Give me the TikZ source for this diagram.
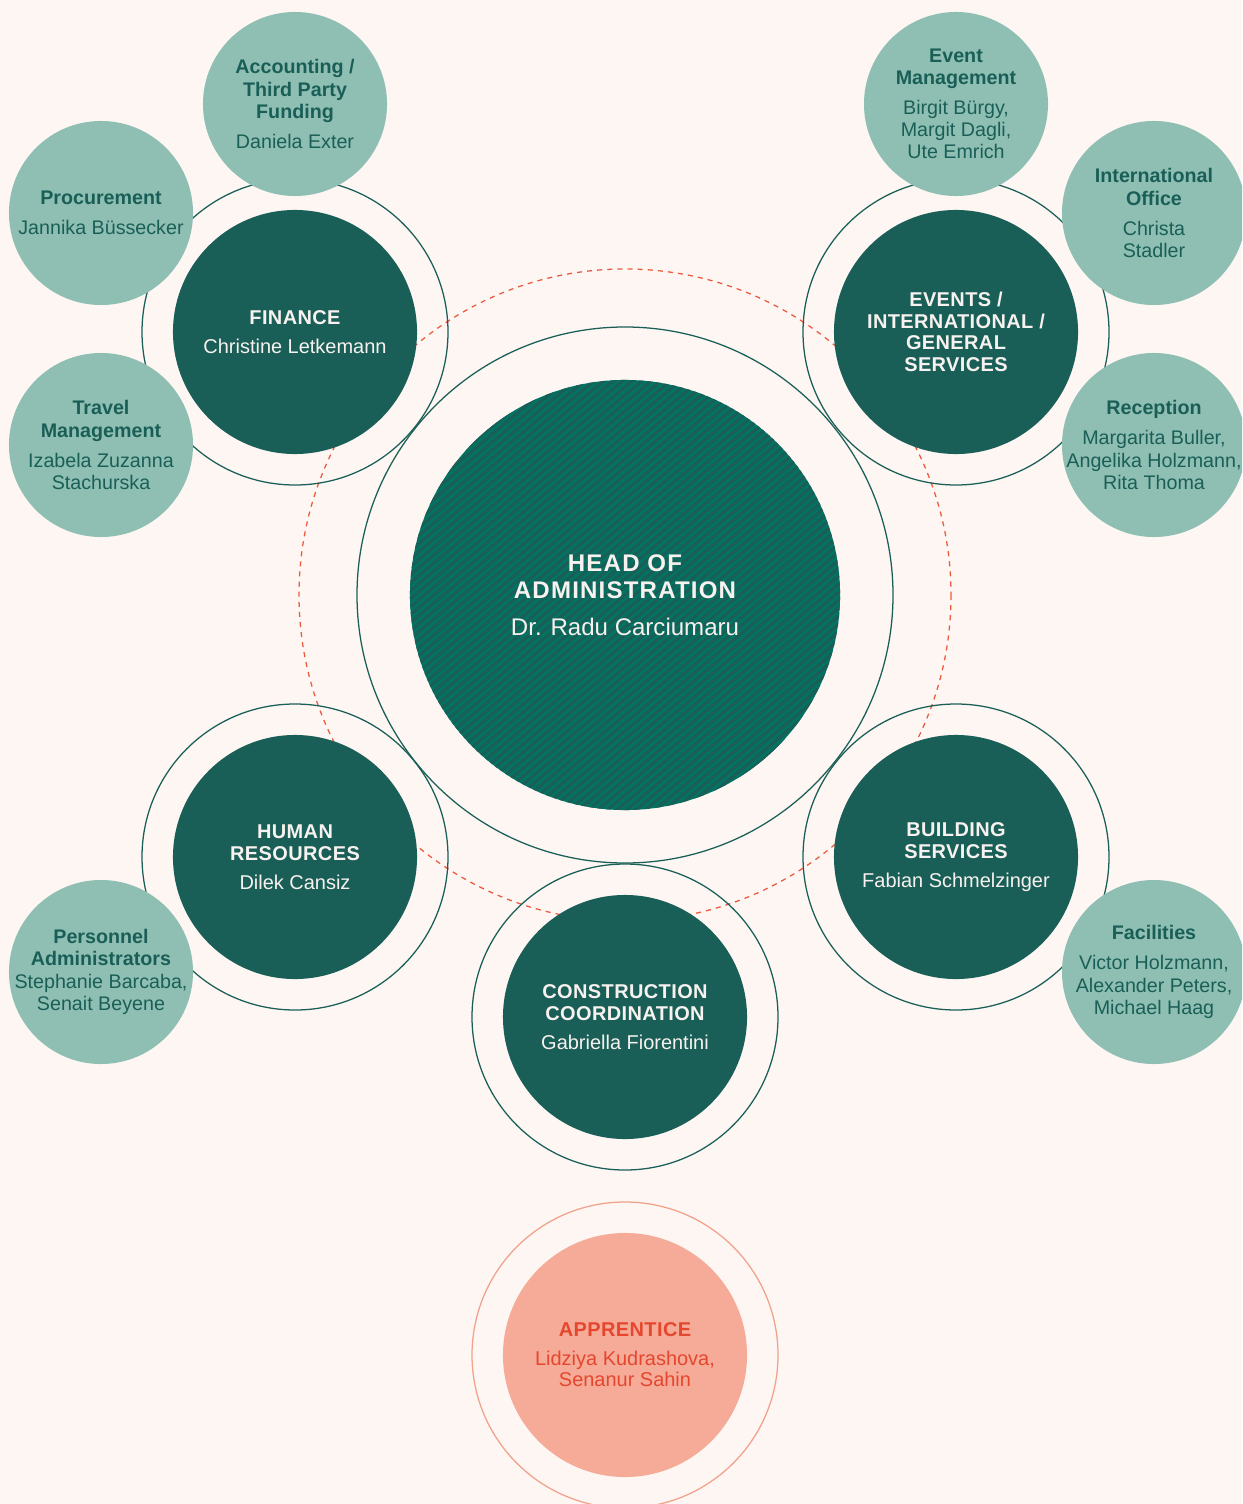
\documentclass[tikz,border=0pt]{standalone}
\usepackage{fontspec}
\setmainfont{Liberation Sans}
\newfontfamily\capsfont[LetterSpace=2]{Liberation Sans}
\newfontfamily\headfont[LetterSpace=5]{Liberation Sans}
\definecolor{bgcream}{HTML}{FDF6F3}
\definecolor{darkteal}{HTML}{1A5F57}
\definecolor{lightteal}{HTML}{8FBFB3}
\definecolor{hatchteal}{HTML}{007462}
\definecolor{dashred}{HTML}{EC5A3E}
\definecolor{salmon}{HTML}{F5AB98}
\definecolor{salmonring}{HTML}{F2A28C}
\definecolor{salmontext}{HTML}{E5472E}
\definecolor{softwhite}{HTML}{F7F2EF}

\begin{document}
\begin{tikzpicture}[x=0.025cm,y=-0.025cm,
    dept/.style={circle, fill=darkteal, text=softwhite, minimum size=6.1cm, inner sep=-1cm,
      align=center, font=\fontsize{14.2}{15.3}\selectfont},
    team/.style={circle, fill=lightteal, text=darkteal, minimum size=4.6cm, inner sep=-1cm,
      align=center, font=\fontsize{14}{15.8}\selectfont},
    ring/.style={draw=darkteal, line width=0.9pt},
    dashring/.style={draw=dashred, line width=0.9pt, dash pattern=on 3.6pt off 3.6pt}]

    % canvas
    \useasboundingbox (0,0) rectangle (1242,1504);
    \fill[bgcream] (0,0) rectangle (1242,1504);
    \clip (0,0) rectangle (1242,1504);

    % centres
    \coordinate (hub) at (625,595);
    \coordinate (finc) at (295,332);
    \coordinate (evtc) at (956,332);
    \coordinate (hrc) at (295,857);
    \coordinate (bldc) at (956,857);
    \coordinate (conc) at (625,1017);
    \coordinate (appc) at (625,1355);

    % dashed orbit
    \draw[dashring] (hub) circle[radius=326];

    % rings
    \draw[ring] (hub) circle[radius=268];
    \foreach \c in {finc,evtc,hrc,bldc,conc}
      \draw[ring] (\c) circle[radius=153];
    \draw[draw=salmonring, line width=0.9pt] (appc) circle[radius=153];

    % head of administration
    \node[circle, fill=hatchteal, minimum size=10.75cm, inner sep=0pt, text=softwhite,
      align=center, font=\fontsize{17.1}{19.2}\selectfont,
      path picture={
        \foreach \k in {-45,...,45}
          \draw[darkteal, line width=2.4pt]
            ([shift={(-320,268+8*\k)}]path picture bounding box.center) --
            ([shift={(320,-268+8*\k)}]path picture bounding box.center);
      }] (head) at (hub)
      {\headfont\bfseries HEAD OF\\ \headfont\bfseries ADMINISTRATION\\[7pt] Dr. Radu Carciumaru};

    % departments
    \node[dept] (fin) at (finc) {\capsfont\bfseries FINANCE\\[5.3pt] Christine Letkemann};
    \node[dept] (evt) at (evtc) {\capsfont\bfseries EVENTS /\\ \capsfont\bfseries INTERNATIONAL /\\
      \capsfont\bfseries GENERAL\\ \capsfont\bfseries SERVICES};
    \node[dept] (hr) at (hrc) {\capsfont\bfseries HUMAN\\ \capsfont\bfseries RESOURCES\\[5.3pt] Dilek Cansiz};
    \node[dept] (bld) at (bldc) {\capsfont\bfseries BUILDING\\ \capsfont\bfseries SERVICES\\[5.3pt] Fabian Schmelzinger};
    \node[dept] (con) at (conc) {\capsfont\bfseries CONSTRUCTION\\ \capsfont\bfseries COORDINATION\\[5.3pt]
      Gabriella Fiorentini};
    \node[dept, fill=salmon, text=salmontext] (app) at (appc)
      {\capsfont\bfseries APPRENTICE\\[5pt] Lidziya Kudrashova,\\ Senanur Sahin};

    % finance teams
    \node[team] (acc) at (295,104) {\bfseries Accounting /\\ \bfseries Third Party\\ \bfseries Funding\\[5.5pt]
      Daniela Exter};
    \node[team] (proc) at (101,213) {\bfseries Procurement\\[5.5pt] Jannika Büssecker};
    \node[team] (trav) at (101,445) {\bfseries Travel\\ \bfseries Management\\[5.5pt] Izabela Zuzanna\\ Stachurska};

    % events teams
    \node[team] (evm) at (956,104) {\bfseries Event\\ \bfseries Management\\[5.5pt] Birgit Bürgy,\\
      Margit Dagli,\\ Ute Emrich};
    \node[team] (intl) at (1154,213) {\bfseries International\\ \bfseries Office\\[5.5pt] Christa\\ Stadler};
    \node[team] (recp) at (1154,445) {\bfseries Reception\\[5.5pt] Margarita Buller,\\ Angelika Holzmann,\\
      Rita Thoma};

    % hr and building teams
    \node[team] (pers) at (101,972) {\bfseries Personnel\\ \bfseries Administrators\\ Stephanie Barcaba,\\
      Senait Beyene};
    \node[team] (fac) at (1154,972) {\bfseries Facilities\\[5.5pt] Victor Holzmann,\\ Alexander Peters,\\
      Michael Haag};
  \end{tikzpicture}
\end{document}
